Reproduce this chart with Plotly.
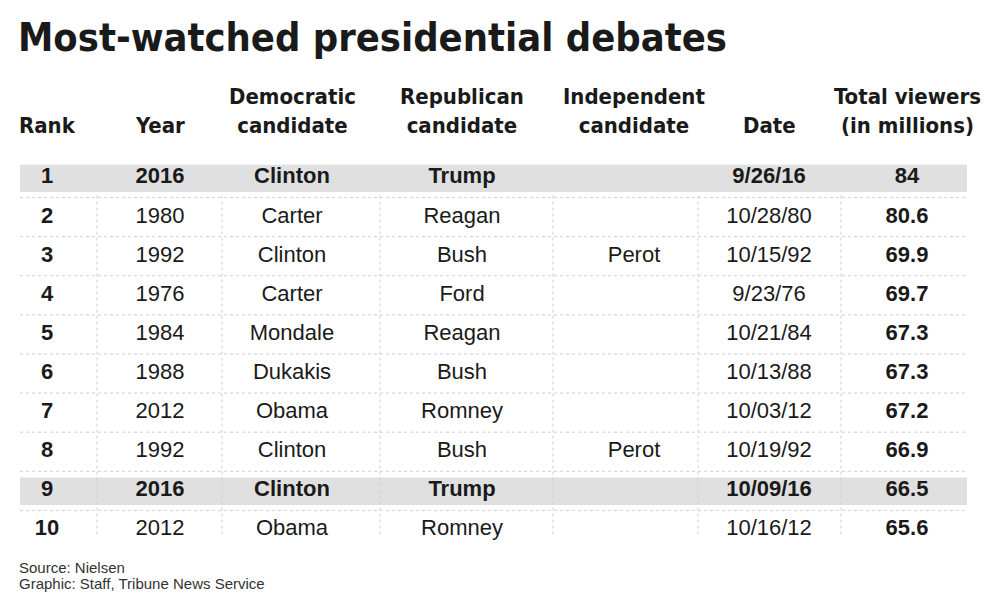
import plotly.graph_objects as go

# table data
rank = [1, 2, 3, 4, 5, 6, 7, 8, 9, 10]
year = [2016, 1980, 1992, 1976, 1984, 1988, 2012, 1992, 2016, 2012]
democrat = ["Clinton", "Carter", "Clinton", "Carter", "Mondale", "Dukakis", "Obama", "Clinton", "Clinton", "Obama"]
republican = ["Trump", "Reagan", "Bush", "Ford", "Reagan", "Bush", "Romney", "Bush", "Trump", "Romney"]
independent = ["", "", "Perot", "", "", "", "", "Perot", "", ""]
date = ["9/26/16", "10/28/80", "10/15/92", "9/23/76", "10/21/84", "10/13/88", "10/03/12", "10/19/92", "10/09/16", "10/16/12"]
viewers = [84, 80.6, 69.9, 69.7, 67.3, 67.3, 67.2, 66.9, 66.5, 65.6]
highlight = [1, 9]  # rows for the 2016 debates

headers = ["Rank", "Year", "Democratic<br>candidate", "Republican<br>candidate",
           "Independent<br>candidate", "Date", "Total viewers<br>(in millions)"]
credits = ["Source: Nielsen", "Graphic: Staff, Tribune News Service"]

# layout
col_x = [47, 160, 292, 462, 634, 769, 907]
sep_x = [97, 222, 380, 553, 698, 841]
table_left, table_right = 20, 966

body_font = "Liberation Sans, Arial, sans-serif"
head_font = "DejaVu Sans Condensed, Liberation Sans Narrow, sans-serif"
ink = "#1a1a1a"


def cell(v, bold):
    return "<b>%s</b>" % v if bold else str(v)


columns = [
    [cell(r, True) for r in rank],
    [cell(y, r in highlight) for y, r in zip(year, rank)],
    [cell(d, r in highlight) for d, r in zip(democrat, rank)],
    [cell(p, r in highlight) for p, r in zip(republican, rank)],
    [cell(i, r in highlight) for i, r in zip(independent, rank)],
    [cell(d, r in highlight) for d, r in zip(date, rank)],
    [cell(v, True) for v in viewers],
]

fig = go.Figure()

for x, texts in zip(col_x, columns):
    fig.add_trace(go.Scatter(
        x=[x] * len(rank), y=rank, text=texts, mode="text",
        textposition="middle center",
        textfont=dict(family=body_font, size=22, color=ink),
        hoverinfo="skip", showlegend=False,
    ))

shapes = []
for r in highlight:
    shapes.append(dict(type="rect", xref="x", yref="y", x0=table_left, x1=table_right + 1,
                       y0=r - 0.34, y1=r + 0.36, fillcolor="#e0e0e0", line_width=0, layer="below"))
for r in rank[:-1]:
    shapes.append(dict(type="line", xref="x", yref="y", x0=table_left, x1=table_right,
                       y0=r + 0.5, y1=r + 0.5, line=dict(color="#cfcfcf", width=1, dash="dot"),
                       layer="below"))
for sx in sep_x:
    shapes.append(dict(type="line", xref="x", yref="y", x0=sx, x1=sx,
                       y0=1.45, y1=10.15, line=dict(color="#cfcfcf", width=1, dash="dot"),
                       layer="below"))

annotations = []
for x, h in zip(col_x, headers):
    annotations.append(dict(x=x, y=0.03, xref="x", yref="y", text="<b>%s</b>" % h,
                            showarrow=False, xanchor="center", yanchor="bottom",
                            font=dict(family=head_font, size=22, color=ink)))

annotations.append(dict(x=16, y=-2.6, xref="x", yref="y", text="<b>Most-watched presidential debates</b>",
                        showarrow=False, xanchor="left", yanchor="middle",
                        font=dict(family=head_font, size=39.5, color=ink)))
for k, line in enumerate(credits):
    annotations.append(dict(x=17, y=10.95 + 0.41 * k, xref="x", yref="y", text=line,
                            showarrow=False, xanchor="left", yanchor="middle", align="left",
                            font=dict(family=body_font, size=15, color="#333333")))

fig.update_layout(
    width=992, height=595,
    margin=dict(l=0, r=0, t=0, b=0),
    paper_bgcolor="white", plot_bgcolor="white",
    xaxis=dict(range=[0, 992], visible=False, fixedrange=True),
    yaxis=dict(range=[11.663, -3.55], visible=False, fixedrange=True),
    shapes=shapes, annotations=annotations,
)

fig.write_html("out.html", config={"displayModeBar": False},
               post_script="document.body.style.margin='0';")
